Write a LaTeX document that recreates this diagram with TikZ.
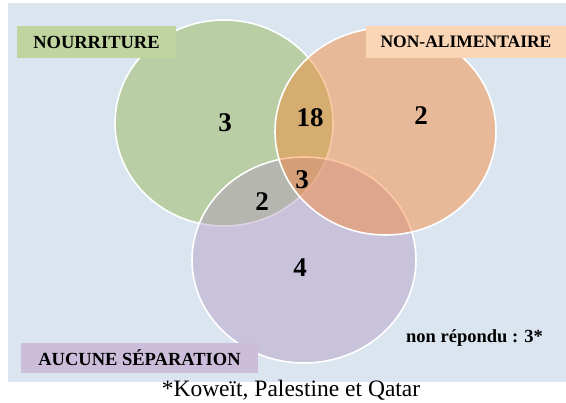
\documentclass[tikz,border=0pt]{standalone}
\usepackage{fontspec}
\setmainfont{Liberation Serif}
\definecolor{fond}{RGB}{218,229,240}
\definecolor{nourr}{RGB}{147,180,73}
\definecolor{nonalim}{RGB}{249,133,49}
\definecolor{aucune}{RGB}{180,153,193}
\definecolor{boitevert}{RGB}{192,212,160}
\definecolor{boiteorange}{RGB}{250,213,182}
\definecolor{boiteviolet}{RGB}{204,190,218}
\begin{document}
\begin{tikzpicture}[x=1pt,y=-1pt,
  ens/.style={draw=white,line width=1.6pt,fill opacity=0.45},
  titre/.style={font=\bfseries\fontsize{18.5}{20}\selectfont,minimum height=32pt,inner sep=0pt},
  chiffre/.style={font=\bfseries\fontsize{27}{28}\selectfont}]
\useasboundingbox (0,0) rectangle (566,403);

\fill[fond] (8,3) rectangle (566,382);
\draw[ens,fill=nourr] (224,123) ellipse (109 and 103);
\draw[ens,fill=aucune] (304,260) ellipse (112 and 103);
\draw[ens,fill=nonalim] (385.5,131.5) ellipse (110.5 and 103.5);

\node[titre,fill=boitevert,minimum width=159pt] (nourriture) at (96.5,42) {NOURRITURE};
\node[titre,fill=boiteorange,minimum width=200pt,font=\bfseries\fontsize{17.5}{19}\selectfont] (nonalimentaire) at (466,42) {NON-ALIMENTAIRE};
\node[titre,fill=boiteviolet,minimum width=237pt,minimum height=30pt] (aucunesep) at (139.5,358) {AUCUNE SÉPARATION};

\node[chiffre] (n1) at (225,123) {3};
\node[chiffre] (n2) at (310,118) {18};
\node[chiffre] (n3) at (421,116) {2};
\node[chiffre] (n4) at (302,180) {3};
\node[chiffre] (n5) at (262,202) {2};
\node[chiffre] (n6) at (300,268) {4};

\node[anchor=base,font=\bfseries\fontsize{18.5}{20}\selectfont] (nonrep) at (474.5,343) {non répondu : 3*};
\node[anchor=base,font=\fontsize{23.5}{24}\selectfont] (note) at (291,397) {*Koweït, Palestine et Qatar};
\end{tikzpicture}
\end{document}
